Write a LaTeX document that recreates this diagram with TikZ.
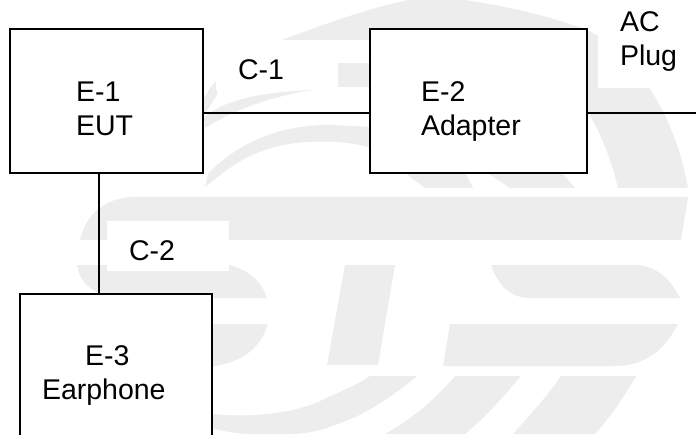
\documentclass[tikz,border=0pt]{standalone}
\usepackage{fontspec}
\setmainfont{Liberation Sans}
\definecolor{wmgray}{HTML}{EDEDED}
\tikzset{
  x=1pt,y=-1pt,
  wmark/.style={fill=wmgray,draw=none},
  patch/.style={fill=white,draw=none},
  boxnode/.style={draw=black,line width=1.6pt,fill=white,rectangle,inner sep=0pt,minimum width=#1,minimum height=144pt},
  lbl/.style={inner sep=0pt,outer sep=0pt,anchor=base west,align=left,font=\fontsize{28.5}{34}\selectfont},
  wire/.style={draw=black,line width=1.3pt}
}
\begin{document}
\begin{tikzpicture}
\useasboundingbox (0,0) rectangle (696,434);
% watermark
\fill[wmark] (282,40) .. controls (330,22) and (370,8) .. (408,0) -- (465,0) .. controls (505,6) and (550,16) .. (587,30) .. controls (625,48) and (672,100) .. (688,188) -- (618,188) .. controls (610,155) and (600,130) .. (575,90) -- (370,40) -- cycle;
\fill[wmark] (338,63) rectangle (372,87);
\fill[wmark] (203,100) -- (210,88) -- (217,80) -- (217,95) -- (204,115) -- cycle;
\fill[wmark] (204,117) .. controls (225,100) and (260,92) .. (313,90) .. controls (280,95) and (240,106) .. (205,128) -- cycle;
\fill[wmark] (208,174) .. controls (240,140) and (285,124) .. (333,125) -- (372,127) -- (465,172) -- (473,188) -- (425,188) -- (372,148) .. controls (345,140) and (300,138) .. (265,150) .. controls (240,158) and (220,175) .. (205,187) -- cycle;
\fill[wmark] (372,97) -- (500,100) -- (575,188) -- (510,188) -- cycle;
\fill[wmark] (133,197) -- (688,197) -- (681,240) -- (80,240) .. controls (84,220) and (100,198) .. (133,197) -- cycle;
\fill[wmark] (77,265) -- (229,265) .. controls (250,270) and (262,283) .. (267,298) -- (120,298) .. controls (95,295) and (80,285) .. (77,265) -- cycle;
\fill[wmark] (150,324) -- (268,324) .. controls (260,350) and (240,362) .. (215,366) -- (150,366) -- cycle;
\fill[wmark] (345,265) -- (395,265) -- (378,365) -- (327,365) -- cycle;
\fill[wmark] (491,265) .. controls (498,285) and (510,298) .. (530,298) -- (680,298) .. controls (670,278) and (655,265) .. (635,265) -- cycle;
\fill[wmark] (450,324) -- (678,324) .. controls (665,350) and (645,366) .. (615,366) -- (443,366) -- cycle;
\fill[wmark] (370,376) -- (417,376) .. controls (395,395) and (365,415) .. (338,424) .. controls (315,433) and (300,434) .. (290,434) -- (250,434) .. controls (235,434) and (225,431) .. (205,427) -- (205,413) .. controls (240,418) and (295,416) .. (328,397) .. controls (345,390) and (358,384) .. (370,376) -- cycle;
\fill[wmark] (455,376) -- (521,376) .. controls (505,395) and (485,418) .. (465,434) -- (385,434) .. controls (410,420) and (435,400) .. (455,376) -- cycle;
\fill[wmark] (561,376) -- (636,376) .. controls (625,395) and (610,418) .. (595,434) -- (513,434) .. controls (530,415) and (548,395) .. (561,376) -- cycle;
% white patches
\fill[patch] (216,40) rectangle (338,90);
\fill[patch] (107,221) rectangle (229,271);
\fill[patch] (598,0) rectangle (696,88);
% boxes
\node[boxnode=193pt] (e1) at (106.5,101) {};
\node[boxnode=217pt] (e2) at (478.5,101) {};
\node[fill=white,draw=none,inner sep=0pt,minimum width=192pt,minimum height=140pt] (e3) at (116,364) {};
% connectors
\coordinate (acend) at (696,113);
\coordinate (drop) at (99,240);
\draw[wire] (e1.east |- acend) -- (e2.west |- acend);
\draw[wire,line width=1.5pt] (e2.east |- acend) -- (acend);
\draw[wire,line width=1.6pt] (e1.south -| drop) -- (e3.north -| drop);
\draw[black,line width=1.6pt,line cap=rect] (e3.south west) -- (e3.north west) -- (e3.north east) -- (e3.south east);
% labels
\node[lbl] (t1) at (76,135) {E-1\\EUT};
\node[lbl] (t2) at (421,135) {E-2\\Adapter};
\node[lbl] (t3) at (42,399) {\hspace*{43pt}E-3\\Earphone};
\node[lbl] (c1) at (238,79) {C-1};
\node[lbl] (c2) at (129,260) {C-2};
\node[lbl] (ac) at (620,65) {AC\\Plug};
\end{tikzpicture}
\end{document}
